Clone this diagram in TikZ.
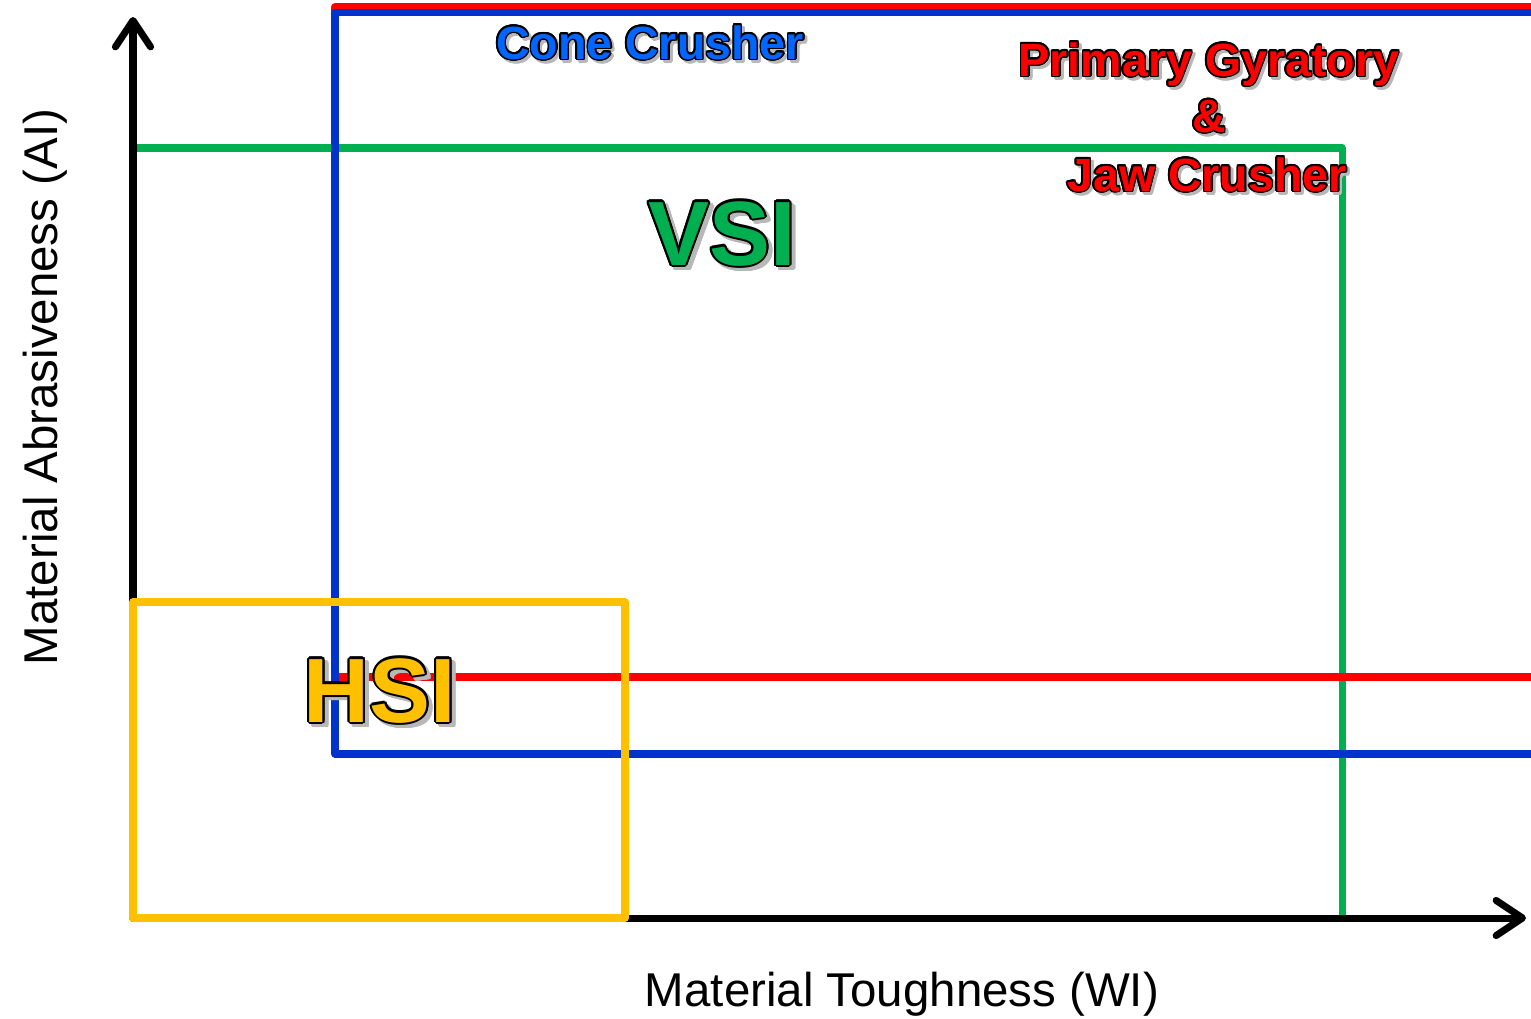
\documentclass[tikz,border=0pt]{standalone}
\usepackage{fontspec}
\setmainfont{Liberation Sans}
\usetikzlibrary{arrows.meta}
\definecolor{lineblue}{RGB}{0,51,204}
\definecolor{linered}{RGB}{255,0,0}
\definecolor{linegreen}{RGB}{0,176,80}
\definecolor{lineyellow}{RGB}{255,192,0}
\definecolor{conefill}{RGB}{0,102,255}
\newlength\olw
\newlength\shw
% #1 fill colour, #2 outline width, #3 shadow offset, #4 text
\newcommand\otext[4]{%
  \setlength\olw{#2}\setlength\shw{#3}%
  \leavevmode
  \foreach \dx/\dy in {1/0,.92/.38,.71/.71,.38/.92,0/1,-.38/.92,-.71/.71,-.92/.38,-1/0,-.92/-.38,-.71/-.71,-.38/-.92,0/-1,.38/-.92,.71/-.71,.92/-.38}{%
    \rlap{\hspace*{\dimexpr\dx\olw+\shw\relax}\raisebox{\dimexpr\dy\olw-\shw\relax}{\textcolor{black!28}{#4}}}}%
  \foreach \dx/\dy in {1/0,.92/.38,.71/.71,.38/.92,0/1,-.38/.92,-.71/.71,-.92/.38,-1/0,-.92/-.38,-.71/-.71,-.38/-.92,0/-1,.38/-.92,.71/-.71,.92/-.38}{%
    \rlap{\hspace*{\dx\olw}\raisebox{\dy\olw}{\textcolor{black}{#4}}}}%
  \textcolor{#1}{#4}}
\tikzset{
  axisline/.style={line width=4pt, line cap=round, -{Straight Barb[length=15pt,width=20pt,round]}},
  frame/.style={line width=4pt, line join=round},
  lbl/.style={inner sep=0pt, anchor=base},
  smallbold/.style={font=\bfseries\fontsize{26.5}{30}\selectfont},
  bigbold/.style={font=\bfseries\fontsize{52}{56}\selectfont},
  axislabel/.style={font=\fontsize{27}{30}\selectfont}
}
\begin{document}
\begin{tikzpicture}[x=0.02cm,y=-0.02cm]
\useasboundingbox (0,0) rectangle (1531,1018);
% green region
\draw[frame, linegreen] (133,148) -- (1342,148) -- (1342,918);
% red region
\draw[frame, linered] (1545,7) -- (335,7) -- (335,677) -- (1545,677);
% blue region
\draw[frame, lineblue] (1545,12.5) -- (335,12.5) -- (335,754) -- (1545,754);
% axes
\coordinate (origin) at (133,918);
\coordinate (ytip) at (133,17);
\coordinate (xtip) at (1526,918);
\draw[axisline] (origin) -- (ytip);
\draw[axisline] (origin) -- (xtip);
% yellow region
\draw[frame, lineyellow, line width=4.2pt] (133,602) rectangle (625,918);
% labels
\node[lbl, smallbold] (cone) at (650,59) {\otext{conefill}{0.85pt}{1.6pt}{Cone Crusher}};
\node[lbl, smallbold] (pg1) at (1209,76) {\otext{linered}{0.85pt}{1.6pt}{Primary Gyratory}};
\node[lbl, smallbold] (pg2) at (1209,132) {\otext{linered}{0.85pt}{1.6pt}{\&}};
\node[lbl, smallbold] (pg3) at (1207,191) {\otext{linered}{0.85pt}{1.6pt}{Jaw Crusher}};
\node[lbl, bigbold] (vsi) at (722,265) {\otext{linegreen}{1.2pt}{2.2pt}{VSI}};
\node[lbl, bigbold] (hsi) at (380,722) {\otext{lineyellow}{1.2pt}{2.2pt}{HSI}};
\node[lbl, axislabel] (xlab) at (902,1006) {Material Toughness (WI)};
\node[lbl, axislabel, rotate=90] (ylab) at (57,387) {Material Abrasiveness (AI)};
\end{tikzpicture}
\end{document}
